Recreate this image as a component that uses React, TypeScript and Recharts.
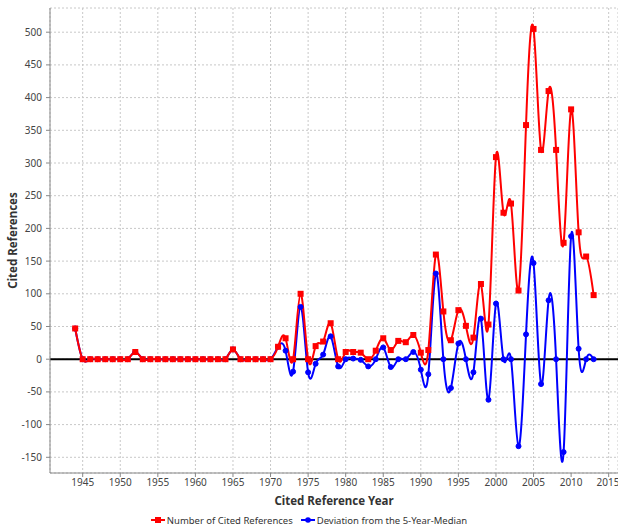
import React from "react";
import {
  LineChart,
  Line,
  XAxis,
  YAxis,
  CartesianGrid,
  ReferenceLine,
  ReferenceArea,
  Legend,
} from "recharts";

// categories: cited reference years
const years = [
  1944, 1945, 1946, 1947, 1948, 1949, 1950, 1951, 1952, 1953,
  1954, 1955, 1956, 1957, 1958, 1959, 1960, 1961, 1962, 1963,
  1964, 1965, 1966, 1967, 1968, 1969, 1970, 1971, 1972, 1973,
  1974, 1975, 1976, 1977, 1978, 1979, 1980, 1981, 1982, 1983,
  1984, 1985, 1986, 1987, 1988, 1989, 1990, 1991, 1992, 1993,
  1994, 1995, 1996, 1997, 1998, 1999, 2000, 2001, 2002, 2003,
  2004, 2005, 2006, 2007, 2008, 2009, 2010, 2011, 2012, 2013,
];

// Number of Cited References
const citedRefs = [
  47, 0, 0, 0, 0, 0, 0, 0, 11, 0,
  0, 0, 0, 0, 0, 0, 0, 0, 0, 0,
  0, 15, 0, 0, 0, 0, 0, 19, 32, 0,
  100, 0, 20, 27, 55, 0, 11, 11, 10, 0,
  13, 32, 14, 28, 26, 37, 10, 14, 160, 73,
  29, 75, 51, 33, 115, 53, 309, 224, 238, 105,
  358, 505, 320, 410, 320, 178, 382, 194, 157, 98,
];

// Deviation from the 5-Year-Median
const deviation = [
  47, 0, 0, 0, 0, 0, 0, 0, 11, 0,
  0, 0, 0, 0, 0, 0, 0, 0, 0, 0,
  0, 15, 0, 0, 0, 0, 0, 19, 13, -19,
  80, -20, -7, 7, 35, -11, 0, 1, -1, -11,
  0, 18, -12, 0, 0, 11, -16, -23, 131, 0,
  -44, 24, 0, -20, 62, -62, 85, 0, 0, -133,
  38, 147, -38, 90, 0, -142, 188, 16, 0, 0,
];

const xTicks = [1945, 1950, 1955, 1960, 1965, 1970, 1975, 1980, 1985, 1990, 1995, 2000, 2005, 2010, 2015];
const yTicks = [-150, -100, -50, 0, 50, 100, 150, 200, 250, 300, 350, 400, 450, 500];

const data = years.map((year, i) => ({
  year,
  cited: citedRefs[i],
  deviation: deviation[i],
}));

const FONT = "'Noto Sans', 'DejaVu Sans', sans-serif";
const RED = "#ff0000";
const BLUE = "#0000ff";

const SquareDot = (props: any) => {
  const { cx, cy, index } = props;
  if (cx == null || cy == null) return null;
  return <rect key={"sq" + index} x={cx - 3} y={cy - 3} width={6} height={6} fill={RED} />;
};

const LegendBox = () => (
  <div
    style={{
      display: "flex",
      justifyContent: "center",
      alignItems: "center",
      height: 18,
      fontFamily: FONT,
      fontSize: 9.5,
      color: "#333",
    }}
  >
    <svg width={14} height={8} style={{ marginRight: 2 }}>
      <line x1={0} y1={4} x2={14} y2={4} stroke={RED} strokeWidth={2} />
      <rect x={4} y={1} width={6} height={6} fill={RED} />
    </svg>
    <span style={{ marginRight: 8 }}>Number of Cited References</span>
    <svg width={14} height={8} style={{ marginRight: 2 }}>
      <line x1={0} y1={4} x2={14} y2={4} stroke={BLUE} strokeWidth={2} />
      <circle cx={7} cy={4} r={2.8} fill={BLUE} />
    </svg>
    <span>Deviation from the 5-Year-Median</span>
  </div>
);

export default function App() {
  return (
    <div style={{ position: "absolute", left: 0, top: 0, width: 618, height: 529, background: "#fff" }}>
      <LineChart
        width={618}
        height={529}
        data={data}
        margin={{ top: 8, right: 0, left: 0, bottom: 0 }}
      >
        <CartesianGrid stroke="#c8c8c8" strokeDasharray="2 2" />
        <XAxis
          dataKey="year"
          type="number"
          domain={[1940.65, 2016.24]}
          ticks={xTicks}
          allowDataOverflow
          height={38}
          tickSize={4}
          tickMargin={2}
          stroke="#888"
          tick={{ fill: "#444", fontSize: 10, fontFamily: FONT }}
          label={{
            value: "Cited Reference Year",
            position: "insideBottom",
            offset: 6,
            style: { fontFamily: FONT, fontSize: 11.5, fontWeight: "bold", fill: "#333" },
          }}
        />
        <YAxis
          type="number"
          domain={[-174, 537]}
          ticks={yTicks}
          allowDataOverflow
          width={50}
          tickSize={4}
          tickMargin={4}
          stroke="#888"
          tick={{ fill: "#444", fontSize: 10, fontFamily: FONT }}
          label={{
            value: "Cited References",
            angle: -90,
            position: "insideLeft",
            offset: 13,
            style: { textAnchor: "middle", fontFamily: FONT, fontSize: 11.5, fontWeight: "bold", fill: "#333" },
          }}
        />
        <ReferenceArea fill="none" stroke="#999" strokeWidth={1} />
        <ReferenceLine y={0} stroke="#000" strokeWidth={2} />
        <Line
          type="natural"
          dataKey="deviation"
          stroke={BLUE}
          strokeWidth={2}
          dot={{ r: 2.5, fill: BLUE, stroke: BLUE, strokeWidth: 1 }}
          isAnimationActive={false}
        />
        <Line
          type="natural"
          dataKey="cited"
          stroke={RED}
          strokeWidth={2}
          dot={SquareDot}
          isAnimationActive={false}
        />
        <Legend verticalAlign="bottom" height={18} content={LegendBox} />
      </LineChart>
    </div>
  );
}
